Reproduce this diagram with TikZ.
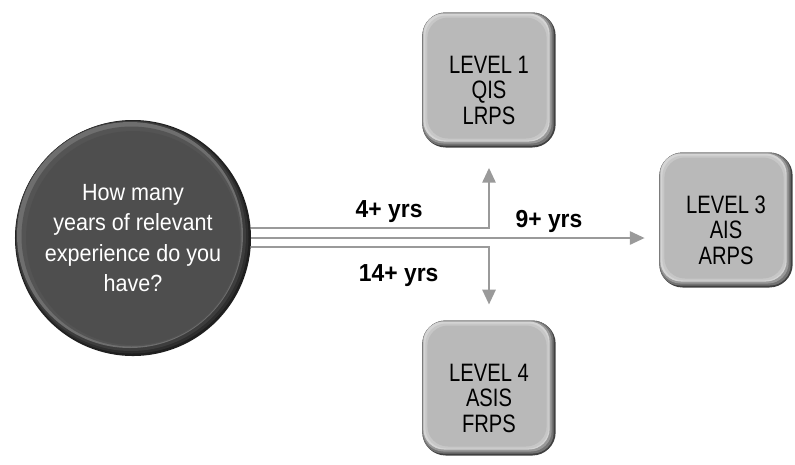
\documentclass[tikz,border=0pt]{standalone}
\usepackage{fontspec}
\setmainfont{Liberation Sans}
\newfontfamily\tilefont[FakeStretch=0.8]{Liberation Sans}
\newfontfamily\askfont[FakeStretch=0.92]{Liberation Sans}
\newfontfamily\yrsfont[FakeStretch=0.93]{Liberation Sans}
\usepackage{tikz}
\usetikzlibrary{arrows.meta, positioning}
\usepackage{xcolor}
\definecolor{ballgray}{HTML}{4E4E4E}
\definecolor{tilegray}{HTML}{B9B9B9}
\definecolor{linegray}{HTML}{9A9A9A}
\tikzstyle{arrow} = [line width=2.5pt, draw=linegray, -{Triangle[length=0.45cm, width=0.39cm]}]
\newcommand{\tilestrut}{\rule{0pt}{1.5em}}

\begin{document}
\begin{tikzpicture}[x=0.03cm, y=-0.03cm, every node/.style={align=center}]
    % Define styles correctly using \tikzset
    \tikzset{
        tile/.style={rectangle, rounded corners=0.7cm, minimum width=4cm, minimum height=4.05cm, fill=black!75, text=black, font=\tilefont\fontsize{21.5}{22}\selectfont,
            path picture={
                \foreach \a/\b/\c in {0/2/black!55, 0.5/4/black!40, 1/6/black!17, 3/7/black!22, 5/9/tilegray}
                    \fill[\c, rounded corners=0.62cm] ([shift={(\a,\a)}]path picture bounding box.north west) rectangle ([shift={(-\b,-\b)}]path picture bounding box.south east);
            }},
        ask/.style={circle, minimum size=7.08cm, fill=black!88, text=white, font=\askfont\fontsize{20}{26}\selectfont,
            path picture={
                \foreach \s/\r/\c in {1/116.5/black!82, 2/115/black!76, 3/113/black!57, 1.5/110/black!67, 0/107/ballgray}
                    \fill[\c] ([shift={(-\s,-\s)}]path picture bounding box.center) circle (\r*0.03cm);
            }},
        yrs/.style={text=black, font=\yrsfont\bfseries\fontsize{21}{24}\selectfont}
    }
    \useasboundingbox (0,0) rectangle (795,464);

    % --- QUESTION ---
    \node (ask) [ask] at (133,238) {How many\\years of relevant\\experience do you\\have?};

    % --- LEVELS ---
    \node (lvlone) [tile] at (489,80) {\tilestrut LEVEL 1\\QIS\\LRPS};
    \node (lvlthree) [tile] at (726,220) {\tilestrut LEVEL 3\\AIS\\ARPS};
    \node (lvlfour) [tile] at (489,388) {\tilestrut LEVEL 4\\ASIS\\FRPS};

    % --- CONNECTIONS ---
    \draw[arrow, shorten >=0.6cm] ([yshift=0.3cm]ask.east) -| node[yrs, above, pos=0.29] (four) {4+ yrs} (lvlone.south);
    \draw[arrow, shorten >=0.43cm] (ask.east) -- node[yrs, above, pos=0.73] (nine) {9+ yrs} (ask.east -| lvlthree.west);
    \draw[arrow, shorten >=0.47cm] ([yshift=-0.27cm]ask.east) -| node[yrs, below=0.36cm, pos=0.31] (fourteen) {14+ yrs} (lvlfour.north);

\end{tikzpicture}
\end{document}
